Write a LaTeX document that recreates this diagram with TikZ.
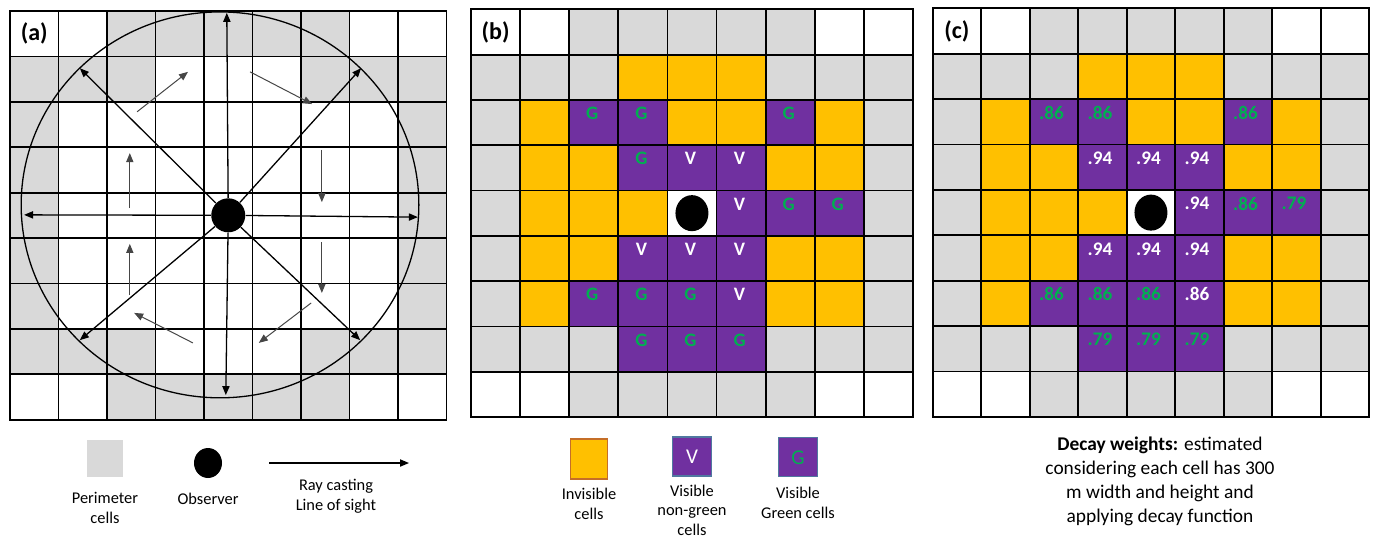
\documentclass[tikz,border=0pt]{standalone}
\usepackage{fontspec}
\setmainfont{Carlito}
\usetikzlibrary{arrows.meta,positioning,shapes.geometric}
\definecolor{perimColor}{RGB}{217,217,217}
\definecolor{hiddenColor}{RGB}{255,192,0}
\definecolor{seenColor}{RGB}{112,48,160}
\definecolor{greenText}{RGB}{0,176,80}
\definecolor{hiddenEdge}{RGB}{197,110,40}
\definecolor{seenEdge}{RGB}{80,120,160}
\definecolor{hintColor}{RGB}{70,70,70}
\newcommand{\panelfont}{\fontsize{12}{14}\selectfont\bfseries}
\newcommand{\markfont}{\fontsize{9.5}{10}\selectfont\bfseries}
\newcommand{\weightfont}{\fontsize{9.6}{10}\selectfont\bfseries}
\newcommand{\keyfont}{\fontsize{8.2}{10}\selectfont}
\newcommand{\keymarkfont}{\fontsize{10.5}{12}\selectfont}
\newcommand{\notefont}{\fontsize{9.7}{12}\selectfont}
% grey ring of perimeter cells, same in all three panels
\newcommand{\perimcells}{%
  \foreach \c in {2,...,6} {\fill[perimColor] (\c,0) rectangle +(1,1); \fill[perimColor] (\c,8) rectangle +(1,1);}%
  \foreach \r in {1,...,7} {\fill[perimColor] (0,\r) rectangle +(1,1); \fill[perimColor] (8,\r) rectangle +(1,1);}%
  \foreach \c in {1,2,6,7} {\fill[perimColor] (\c,1) rectangle +(1,1); \fill[perimColor] (\c,7) rectangle +(1,1);}%
}
\newcommand{\hiddencells}{%
  \foreach \c/\r in {3/1,4/1,5/1,1/2,4/2,5/2,7/2,1/3,2/3,6/3,7/3,1/4,2/4,3/4,1/5,2/5,6/5,7/5,1/6,6/6,7/6}
    \fill[hiddenColor] (\c,\r) rectangle +(1,1);%
}
\newcommand{\cellgrid}{%
  \foreach \i in {0,...,9} {\draw[gridline] (\i,0) -- (\i,9); \draw[gridline] (0,\i) -- (9,\i);}%
}

\begin{document}
\begin{tikzpicture}[
    x=0.5pt, y=-0.5pt,
    gridline/.style={line width=0.9pt, black, line cap=rect},
    ray/.style={-{Triangle[length=4.5pt,width=3.6pt]}, line width=0.65pt, black},
    hint/.style={-{Triangle[length=4.5pt,width=3.6pt]}, line width=0.5pt, hintColor},
    sightline/.style={line width=0.65pt, black},
    observer/.style={circle, fill=black, minimum size=17pt, inner sep=0pt},
    observerB/.style={ellipse, fill=black, minimum width=16.5pt, minimum height=18pt, inner sep=0pt},
    panel/.style={font=\panelfont, inner sep=0pt},
    cellmark/.style={font=\markfont, inner sep=0pt},
    cellweight/.style={font=\weightfont, inner sep=0pt},
    keybox/.style={minimum width=18pt, minimum height=18.5pt, inner sep=0pt},
    keytext/.style={font=\keyfont, align=center, inner sep=0pt},
  ]
  \useasboundingbox (0,0) rectangle (1375,538);

  % (a) ray casting
  \begin{scope}[shift={(10,11)}, x=24.25pt, y=-22.7pt]
    \perimcells
    \cellgrid
    \node[panel] (labA) at (0.5,0.5) {(a)};
    \draw[sightline] (4.33,4.27) ellipse [x radius=4.1, y radius=4.25];
    \node[observer] (obsA) at (4.5,4.5) {};
    \coordinate (rUp) at (4.47,0.04);
    \coordinate (rDown) at (4.45,8.46);
    \coordinate (rLeft) at (0.29,4.49);
    \coordinate (rRight) at (8.41,4.54);
    \coordinate (rUL) at (1.44,1.26);
    \coordinate (rUR) at (7.24,1.26);
    \coordinate (rDL) at (1.44,7.25);
    \coordinate (rDR) at (7.22,7.25);
    \foreach \n in {rUp,rDown,rLeft,rRight,rUL,rUR,rDL,rDR}
      \draw[ray] (obsA) -- (\n);
    \foreach \a/\b in {{2.62,2.22}/{3.67,1.34}, {4.95,1.34}/{6.23,2.05}, {6.43,3.06}/{6.43,4.21},
                       {6.43,5.09}/{6.43,6.21}, {6.21,6.43}/{5.13,7.31}, {3.77,7.31}/{2.56,6.65},
                       {2.47,6.26}/{2.47,5.13}, {2.47,4.34}/{2.47,3.13}}
      \draw[hint] (\a) -- (\b);
  \end{scope}

  % (b) visibility
  \begin{scope}[shift={(471,9.3)}, x=24.55pt, y=-22.65pt]
    \perimcells
    \hiddencells
    \foreach \c/\r/\k/\col in {2/2/G/greenText,3/2/G/greenText,6/2/G/greenText,
                               3/3/G/greenText,4/3/V/white,5/3/V/white,
                               5/4/V/white,6/4/G/greenText,7/4/G/greenText,
                               3/5/V/white,4/5/V/white,5/5/V/white,
                               2/6/G/greenText,3/6/G/greenText,4/6/G/greenText,5/6/V/white,
                               3/7/G/greenText,4/7/G/greenText,5/7/G/greenText}
      \fill[seenColor] (\c,\r) rectangle +(1,1);
    \cellgrid
    \foreach \c/\r/\k/\col in {2/2/G/greenText,3/2/G/greenText,6/2/G/greenText,
                               3/3/G/greenText,4/3/V/white,5/3/V/white,
                               5/4/V/white,6/4/G/greenText,7/4/G/greenText,
                               3/5/V/white,4/5/V/white,5/5/V/white,
                               2/6/G/greenText,3/6/G/greenText,4/6/G/greenText,5/6/V/white,
                               3/7/G/greenText,4/7/G/greenText,5/7/G/greenText}
      \node[cellmark, text=\col] (b-\c-\r) at (\c+0.47,\r+0.3) {\k};
    \node[panel] (labB) at (0.5,0.5) {(b)};
    \node[observerB] (obsB) at (4.5,4.5) {};
  \end{scope}

  % (c) decay weights
  \begin{scope}[shift={(932.7,8.3)}, x=24.25pt, y=-22.7pt]
    \perimcells
    \hiddencells
    \foreach \c/\r/\w/\col in {2/2/.86/greenText,3/2/.86/greenText,6/2/.86/greenText,
                               3/3/.94/white,4/3/.94/white,5/3/.94/white,
                               5/4/.94/white,6/4/.86/greenText,7/4/.79/greenText,
                               3/5/.94/white,4/5/.94/white,5/5/.94/white,
                               2/6/.86/greenText,3/6/.86/greenText,4/6/.86/greenText,5/6/.86/white,
                               3/7/.79/greenText,4/7/.79/greenText,5/7/.79/greenText}
      \fill[seenColor] (\c,\r) rectangle +(1,1);
    \cellgrid
    \foreach \c/\r/\w/\col in {2/2/.86/greenText,3/2/.86/greenText,6/2/.86/greenText,
                               3/3/.94/white,4/3/.94/white,5/3/.94/white,
                               5/4/.94/white,6/4/.86/greenText,7/4/.79/greenText,
                               3/5/.94/white,4/5/.94/white,5/5/.94/white,
                               2/6/.86/greenText,3/6/.86/greenText,4/6/.86/greenText,5/6/.86/white,
                               3/7/.79/greenText,4/7/.79/greenText,5/7/.79/greenText}
      \node[cellweight, text=\col] (c-\c-\r) at (\c+0.45,\r+0.3) {\w};
    \node[panel] (labC) at (0.5,0.5) {(c)};
    \node[observerB] (obsC) at (4.5,4.5) {};
  \end{scope}

  % legend (a)
  \node[keybox, fill=perimColor] (perimkey) at (105,458.5) {};
  \node[keytext, below=7pt of perimkey] (perimtxt) {Perimeter\\cells};
  \node[ellipse, fill=black, minimum width=14pt, minimum height=15pt, inner sep=0pt] (obskey) at (208,463) {};
  \node[keytext, below=7pt of obskey] (obstxt) {Observer};
  \coordinate (raytail) at (269,463);
  \coordinate (rayhead) at (409,463);
  \draw[ray] (raytail) -- (rayhead);
  \node[keytext] (raytxt) at (336,496) {Ray casting\\Line of sight};

  % legend (b)
  \node[keybox, fill=hiddenColor, draw=hiddenEdge, line width=0.6pt, minimum width=18.5pt, minimum height=20pt] (hiddenkey) at (589,459) {};
  \node[keytext, below=4pt of hiddenkey] (hiddentxt) {Invisible\\cells};
  \node[keybox, fill=seenColor, draw=seenEdge, line width=0.6pt, minimum size=19.5pt, text=white, font=\keymarkfont] (vkey) at (692,456.5) {V};
  \node[keytext, below=4pt of vkey, font=\fontsize{8.2}{9.7}\selectfont] (vtxt) {Visible\\non-green\\cells};
  \node[keybox, fill=seenColor, draw=seenEdge, line width=0.6pt, minimum size=19.5pt, text=greenText, font=\keymarkfont] (gkey) at (798,457.3) {G};
  \node[keytext, below=4.5pt of gkey] (gtxt) {Visible\\Green cells};

  % legend (c)
  \node[keytext, font=\notefont] (decaynote) at (1160,481) {\textbf{Decay weights:} estimated\\considering each cell has 300\\m width and height and\\applying decay function};
\end{tikzpicture}
\end{document}
